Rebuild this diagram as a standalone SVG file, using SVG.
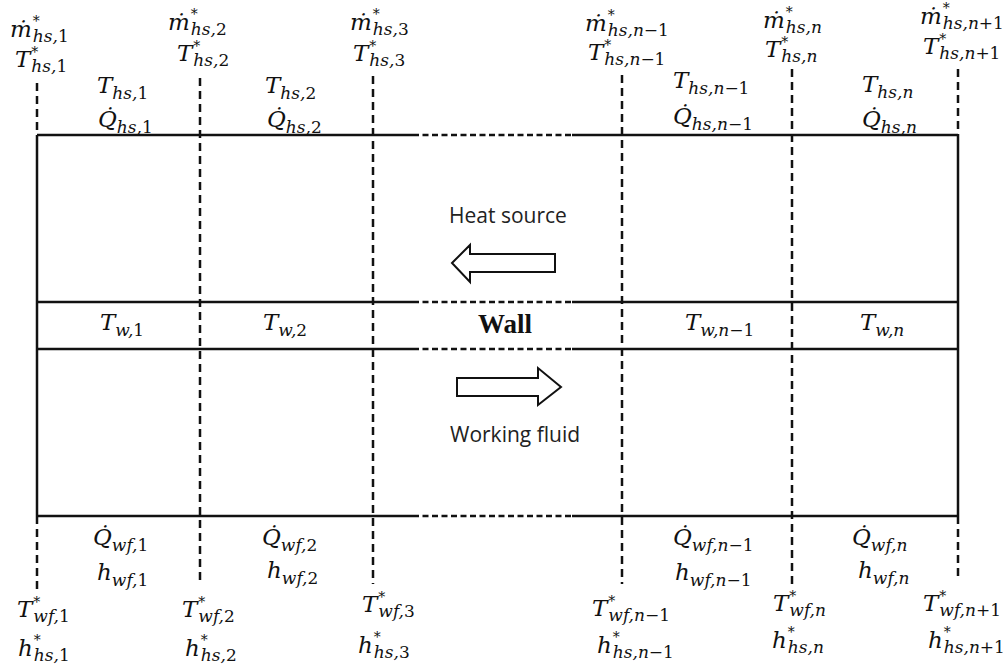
<svg xmlns="http://www.w3.org/2000/svg" width="1006" height="670" viewBox="0 0 1006 670">
<style>
.bg{fill:#ffffff}
.solid{stroke:#111;stroke-width:2.5;fill:none}
.hd{stroke:#111;stroke-width:2.5;fill:none;stroke-dasharray:6 3.5}
.vd{stroke:#111;stroke-width:2.5;fill:none;stroke-dasharray:8 5}
.arrow{fill:#fff;stroke:#111;stroke-width:2}
.m{font-family:"DejaVu Serif","Liberation Serif",serif;font-style:italic;font-size:23px;fill:#111}
.s{font-size:17px}
.st{font-size:14px;font-style:normal}
.u{font-style:normal}
.lbl{font-family:"Open Sans","Liberation Sans",sans-serif;font-size:21px;fill:#222}
.wall{font-family:"Liberation Serif",serif;font-weight:bold;font-size:27px;fill:#111}
</style>
<rect class="bg" x="0" y="0" width="1006" height="670"/>
<g id="connectors">
  <path class="solid" d="M37 135H413M572 135H958M37 302H413M572 302H958M37 349H413M572 349H958M37 516H413M572 516H958"/>
  <path class="hd" d="M413 135H572M413 302H572M413 349H572M413 516H572"/>
  <path class="solid" d="M37 135V516M958 135V516"/>
  <path class="vd" d="M37 83V135M37 516V591M958 69V135M958 516V576"/>
  <path class="vd" d="M200 78V584M373 76V584M622 75V584M792 69V584"/>
</g>
<g id="flow-arrows">
  <polygon class="arrow" points="452,263 470,245 470,254 555,254 555,272 470,272 470,282"/>
  <polygon class="arrow" points="561,387 538,368 538,378 457,378 457,396 538,396 538,405"/>
</g>
<g id="heat-source"><text class="lbl" x="449" y="223">Heat source</text></g>
<g id="working-fluid"><text class="lbl" x="450" y="442">Working fluid</text></g>
<g id="wall"><text class="wall" x="478" y="333">Wall</text></g>

<g id="inlet-hs">
  <text class="m" x="10" y="37">ṁ<tspan class="st" dx="1" dy="-11">*</tspan><tspan class="s" dx="-7" dy="16">hs,<tspan class="u">1</tspan></tspan></text>
  <text class="m" x="15" y="67">T<tspan class="st" dx="1" dy="-10">*</tspan><tspan class="s" dx="-7" dy="15">hs,<tspan class="u">1</tspan></tspan></text>
  <text class="m" x="168" y="30">ṁ<tspan class="st" dx="1" dy="-11">*</tspan><tspan class="s" dx="-7" dy="16">hs,<tspan class="u">2</tspan></tspan></text>
  <text class="m" x="177" y="61">T<tspan class="st" dx="1" dy="-10">*</tspan><tspan class="s" dx="-7" dy="15">hs,<tspan class="u">2</tspan></tspan></text>
  <text class="m" x="350" y="30">ṁ<tspan class="st" dx="1" dy="-11">*</tspan><tspan class="s" dx="-7" dy="16">hs,<tspan class="u">3</tspan></tspan></text>
  <text class="m" x="353" y="61">T<tspan class="st" dx="1" dy="-10">*</tspan><tspan class="s" dx="-7" dy="15">hs,<tspan class="u">3</tspan></tspan></text>
  <text class="m" x="585" y="31">ṁ<tspan class="st" dx="1" dy="-11">*</tspan><tspan class="s" dx="-7" dy="16">hs,n<tspan class="u">−1</tspan></tspan></text>
  <text class="m" x="588" y="60">T<tspan class="st" dx="1" dy="-10">*</tspan><tspan class="s" dx="-7" dy="15">hs,n<tspan class="u">−1</tspan></tspan></text>
  <text class="m" x="763" y="28">ṁ<tspan class="st" dx="1" dy="-11">*</tspan><tspan class="s" dx="-7" dy="16">hs,n</tspan></text>
  <text class="m" x="765" y="57">T<tspan class="st" dx="1" dy="-10">*</tspan><tspan class="s" dx="-7" dy="15">hs,n</tspan></text>
  <text class="m" x="920" y="24">ṁ<tspan class="st" dx="1" dy="-11">*</tspan><tspan class="s" dx="-7" dy="16">hs,n<tspan class="u">+1</tspan></tspan></text>
  <text class="m" x="923" y="54">T<tspan class="st" dx="1" dy="-10">*</tspan><tspan class="s" dx="-7" dy="15">hs,n<tspan class="u">+1</tspan></tspan></text>
</g>

<g id="cells-hs">
  <text class="m" x="97" y="93">T<tspan class="s" dy="6">hs,<tspan class="u">1</tspan></tspan></text>
  <text class="m" x="98" y="127">Q̇<tspan class="s" dy="6">hs,<tspan class="u">1</tspan></tspan></text>
  <text class="m" x="265" y="93">T<tspan class="s" dy="6">hs,<tspan class="u">2</tspan></tspan></text>
  <text class="m" x="267" y="127">Q̇<tspan class="s" dy="6">hs,<tspan class="u">2</tspan></tspan></text>
  <text class="m" x="673" y="88">T<tspan class="s" dy="6">hs,n<tspan class="u">−1</tspan></tspan></text>
  <text class="m" x="673" y="124">Q̇<tspan class="s" dy="6">hs,n<tspan class="u">−1</tspan></tspan></text>
  <text class="m" x="862" y="92">T<tspan class="s" dy="6">hs,n</tspan></text>
  <text class="m" x="862" y="127">Q̇<tspan class="s" dy="6">hs,n</tspan></text>
</g>

<g id="cells-wall">
  <text class="m" x="100" y="330">T<tspan class="s" dy="6">w,<tspan class="u">1</tspan></tspan></text>
  <text class="m" x="263" y="330">T<tspan class="s" dy="6">w,<tspan class="u">2</tspan></tspan></text>
  <text class="m" x="685" y="330">T<tspan class="s" dy="6">w,n<tspan class="u">−1</tspan></tspan></text>
  <text class="m" x="860" y="330">T<tspan class="s" dy="6">w,n</tspan></text>
</g>

<g id="cells-wf">
  <text class="m" x="93" y="545">Q̇<tspan class="s" dy="6">wf,<tspan class="u">1</tspan></tspan></text>
  <text class="m" x="97" y="580">h<tspan class="s" dy="6">wf,<tspan class="u">1</tspan></tspan></text>
  <text class="m" x="262" y="545">Q̇<tspan class="s" dy="6">wf,<tspan class="u">2</tspan></tspan></text>
  <text class="m" x="267" y="578">h<tspan class="s" dy="6">wf,<tspan class="u">2</tspan></tspan></text>
  <text class="m" x="673" y="545">Q̇<tspan class="s" dy="6">wf,n<tspan class="u">−1</tspan></tspan></text>
  <text class="m" x="675" y="580">h<tspan class="s" dy="6">wf,n<tspan class="u">−1</tspan></tspan></text>
  <text class="m" x="852" y="545">Q̇<tspan class="s" dy="6">wf,n</tspan></text>
  <text class="m" x="858" y="578">h<tspan class="s" dy="6">wf,n</tspan></text>
</g>

<g id="outlet-wf">
  <text class="m" x="17" y="617">T<tspan class="st" dx="1" dy="-10">*</tspan><tspan class="s" dx="-7" dy="15">wf,<tspan class="u">1</tspan></tspan></text>
  <text class="m" x="18" y="656">h<tspan class="st" dx="1" dy="-11">*</tspan><tspan class="s" dx="-7" dy="16">hs,<tspan class="u">1</tspan></tspan></text>
  <text class="m" x="182" y="617">T<tspan class="st" dx="1" dy="-10">*</tspan><tspan class="s" dx="-7" dy="15">wf,<tspan class="u">2</tspan></tspan></text>
  <text class="m" x="185" y="656">h<tspan class="st" dx="1" dy="-11">*</tspan><tspan class="s" dx="-7" dy="16">hs,<tspan class="u">2</tspan></tspan></text>
  <text class="m" x="362" y="612">T<tspan class="st" dx="1" dy="-10">*</tspan><tspan class="s" dx="-7" dy="15">wf,<tspan class="u">3</tspan></tspan></text>
  <text class="m" x="358" y="653">h<tspan class="st" dx="1" dy="-11">*</tspan><tspan class="s" dx="-7" dy="16">hs,<tspan class="u">3</tspan></tspan></text>
  <text class="m" x="592" y="616">T<tspan class="st" dx="1" dy="-10">*</tspan><tspan class="s" dx="-7" dy="15">wf,n<tspan class="u">−1</tspan></tspan></text>
  <text class="m" x="597" y="653">h<tspan class="st" dx="1" dy="-11">*</tspan><tspan class="s" dx="-7" dy="16">hs,n<tspan class="u">−1</tspan></tspan></text>
  <text class="m" x="773" y="611">T<tspan class="st" dx="1" dy="-10">*</tspan><tspan class="s" dx="-7" dy="15">wf,n</tspan></text>
  <text class="m" x="772" y="648">h<tspan class="st" dx="1" dy="-11">*</tspan><tspan class="s" dx="-7" dy="16">hs,n</tspan></text>
  <text class="m" x="923" y="611">T<tspan class="st" dx="1" dy="-10">*</tspan><tspan class="s" dx="-7" dy="15">wf,n<tspan class="u">+1</tspan></tspan></text>
  <text class="m" x="928" y="648">h<tspan class="st" dx="1" dy="-11">*</tspan><tspan class="s" dx="-7" dy="16">hs,n<tspan class="u">+1</tspan></tspan></text>
</g>
</svg>
